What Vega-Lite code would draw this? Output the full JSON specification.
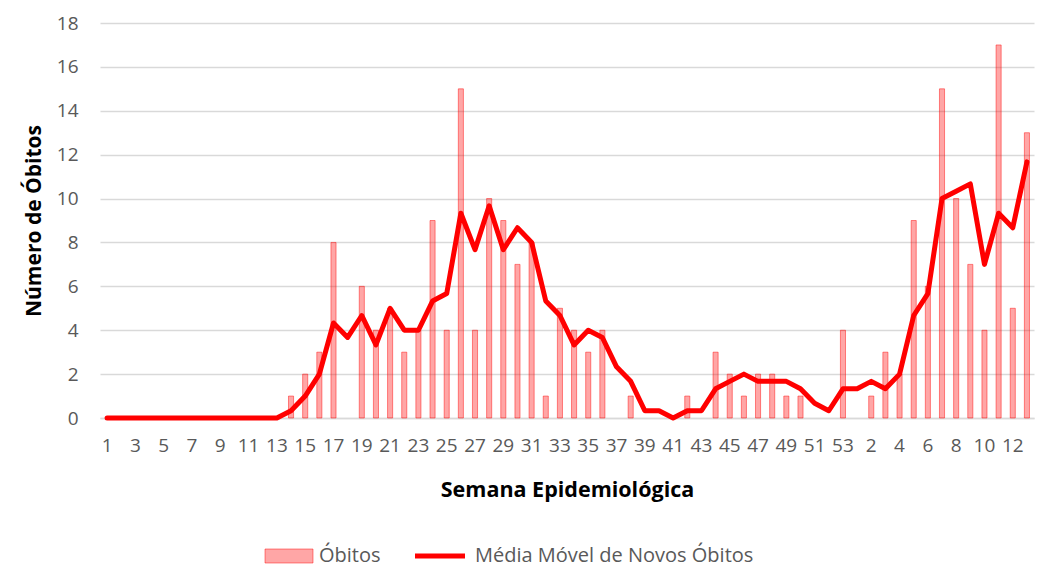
{
  "$schema": "https://vega.github.io/schema/vega-lite/v6.json",
  "width": 934,
  "height": 395,
  "autosize": {"type": "none"},
  "padding": {"left": 100, "top": 23, "right": 30, "bottom": 151},
  "background": "white",
  "config": {"view": {"stroke": null}, "font": "Open Sans"},
  "data": {"values": [
    {"i":1,"obitos":0,"mm":0},{"i":2,"obitos":0,"mm":0},{"i":3,"obitos":0,"mm":0},{"i":4,"obitos":0,"mm":0},
    {"i":5,"obitos":0,"mm":0},{"i":6,"obitos":0,"mm":0},{"i":7,"obitos":0,"mm":0},{"i":8,"obitos":0,"mm":0},
    {"i":9,"obitos":0,"mm":0},{"i":10,"obitos":0,"mm":0},{"i":11,"obitos":0,"mm":0},{"i":12,"obitos":0,"mm":0},
    {"i":13,"obitos":0,"mm":0},{"i":14,"obitos":1,"mm":0.33},{"i":15,"obitos":2,"mm":1},{"i":16,"obitos":3,"mm":2},
    {"i":17,"obitos":8,"mm":4.33},{"i":18,"obitos":0,"mm":3.67},{"i":19,"obitos":6,"mm":4.67},{"i":20,"obitos":4,"mm":3.33},
    {"i":21,"obitos":5,"mm":5},{"i":22,"obitos":3,"mm":4},{"i":23,"obitos":4,"mm":4},{"i":24,"obitos":9,"mm":5.33},
    {"i":25,"obitos":4,"mm":5.67},{"i":26,"obitos":15,"mm":9.33},{"i":27,"obitos":4,"mm":7.67},{"i":28,"obitos":10,"mm":9.67},
    {"i":29,"obitos":9,"mm":7.67},{"i":30,"obitos":7,"mm":8.67},{"i":31,"obitos":8,"mm":8},{"i":32,"obitos":1,"mm":5.33},
    {"i":33,"obitos":5,"mm":4.67},{"i":34,"obitos":4,"mm":3.33},{"i":35,"obitos":3,"mm":4},{"i":36,"obitos":4,"mm":3.67},
    {"i":37,"obitos":0,"mm":2.33},{"i":38,"obitos":1,"mm":1.67},{"i":39,"obitos":0,"mm":0.33},{"i":40,"obitos":0,"mm":0.33},
    {"i":41,"obitos":0,"mm":0},{"i":42,"obitos":1,"mm":0.33},{"i":43,"obitos":0,"mm":0.33},{"i":44,"obitos":3,"mm":1.33},
    {"i":45,"obitos":2,"mm":1.67},{"i":46,"obitos":1,"mm":2},{"i":47,"obitos":2,"mm":1.67},{"i":48,"obitos":2,"mm":1.67},
    {"i":49,"obitos":1,"mm":1.67},{"i":50,"obitos":1,"mm":1.33},{"i":51,"obitos":0,"mm":0.67},{"i":52,"obitos":0,"mm":0.33},
    {"i":53,"obitos":4,"mm":1.33},{"i":54,"obitos":0,"mm":1.33},{"i":55,"obitos":1,"mm":1.67},{"i":56,"obitos":3,"mm":1.33},
    {"i":57,"obitos":2,"mm":2},{"i":58,"obitos":9,"mm":4.67},{"i":59,"obitos":6,"mm":5.67},{"i":60,"obitos":15,"mm":10},
    {"i":61,"obitos":10,"mm":10.33},{"i":62,"obitos":7,"mm":10.67},{"i":63,"obitos":4,"mm":7},{"i":64,"obitos":17,"mm":9.33},
    {"i":65,"obitos":5,"mm":8.67},{"i":66,"obitos":13,"mm":11.67}
  ]},
  "encoding": {
    "x": {
      "field": "i", "type": "ordinal",
      "scale": {"paddingInner": 0.64, "paddingOuter": 0.32},
      "axis": {
        "labelAngle": 0,
        "labelExpr": "datum.value <= 53 ? (datum.value % 2 == 1 ? '' + datum.value : '') : ((datum.value - 53) % 2 == 0 ? '' + (datum.value - 53) : '')",
        "labelOverlap": false,
        "labelFontSize": 19,
        "labelColor": "#595959",
        "labelPadding": 18,
        "ticks": false,
        "domainColor": "#D9D9D9",
        "domainWidth": 1.5,
        "title": "Semana Epidemiológica",
        "titleFontSize": 21.5,
        "titleFontWeight": "bold",
        "titleColor": "#000000",
        "titleY": 72,
        "titleBaseline": "middle"
      }
    }
  },
  "layer": [
    {
      "transform": [{"filter": "datum.obitos > 0"}],
      "mark": {"type": "bar", "stroke": "rgba(255,0,0,0.45)", "strokeWidth": 1},
      "encoding": {
        "y": {
          "field": "obitos", "type": "quantitative",
          "scale": {"domain": [0, 18]},
          "axis": {
            "values": [0,2,4,6,8,10,12,14,16,18],
            "grid": true, "gridColor": "#D9D9D9", "gridWidth": 1.5,
            "domain": false, "ticks": false,
            "labelPadding": 22, "labelFontSize": 19, "labelColor": "#595959",
            "title": "Número de Óbitos",
            "titleFontSize": 21, "titleFontWeight": "bold", "titleColor": "#000000",
            "titleX": -66, "titleY": 197.5, "titleAlign": "center", "titleBaseline": "middle"
          }
        },
        "fill": {
          "datum": "Óbitos", "type": "nominal",
          "scale": {"domain": ["Óbitos"], "range": ["rgba(255,0,0,0.35)"]},
          "legend": {
            "title": null, "orient": "none", "legendX": 179, "legendY": 523,
            "symbolType": "M-4.8,-1.4H4.8V1.4H-4.8Z", "symbolSize": 100,
            "symbolStrokeColor": "rgba(255,0,0,0.45)", "symbolStrokeWidth": 1,
            "labelFontSize": 20, "labelColor": "#595959", "labelOffset": 20, "labelLimit": 400
          }
        }
      }
    },
    {
      "mark": {"type": "line", "strokeWidth": 5, "strokeCap": "round", "strokeJoin": "round"},
      "encoding": {
        "y": {"field": "mm", "type": "quantitative"},
        "stroke": {
          "datum": "Média Móvel de Novos Óbitos", "type": "nominal",
          "scale": {"domain": ["Média Móvel de Novos Óbitos"], "range": ["#FF0000"]},
          "legend": {
            "title": null, "orient": "none", "legendX": 330, "legendY": 523,
            "symbolType": "M-5,0H5", "symbolSize": 100, "symbolStrokeWidth": 5,
            "labelFontSize": 20, "labelColor": "#595959", "labelOffset": 25, "labelLimit": 400
          }
        }
      }
    }
  ]
}
